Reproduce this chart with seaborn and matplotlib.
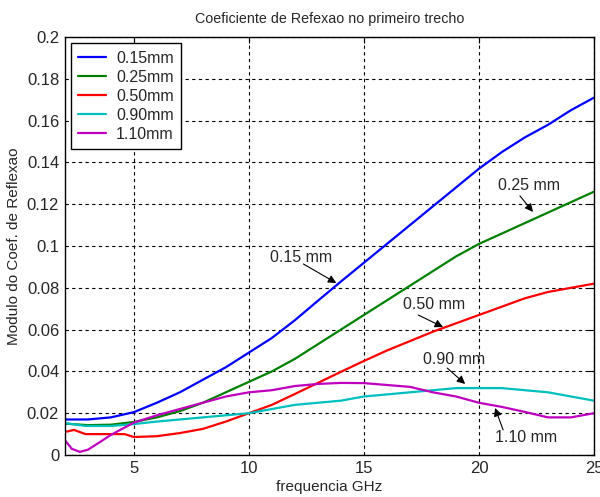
import matplotlib
matplotlib.use("Agg")
import matplotlib.pyplot as plt
import seaborn as sns
import pandas as pd
import numpy as np

# ---- data ----
freq_015 = [2, 3, 4, 5, 6, 7, 8, 9, 10, 11, 12, 13, 14, 15, 16, 17, 18, 19, 20, 21, 22, 23, 24, 25]
val_015 = [0.017, 0.017, 0.018, 0.0205, 0.025, 0.030, 0.036, 0.042, 0.049, 0.056, 0.0645, 0.0738, 0.083,
           0.092, 0.101, 0.110, 0.119, 0.128, 0.137, 0.145, 0.152, 0.158, 0.165, 0.171]

freq_025 = [2, 3, 4, 5, 6, 7, 8, 9, 10, 11, 12, 13, 14, 15, 16, 17, 18, 19, 20, 21, 22, 23, 24, 25]
val_025 = [0.015, 0.0143, 0.0145, 0.0158, 0.018, 0.021, 0.025, 0.030, 0.035, 0.040, 0.046, 0.053, 0.060,
           0.067, 0.074, 0.081, 0.088, 0.095, 0.101, 0.106, 0.111, 0.116, 0.121, 0.126]

freq_050 = [2, 2.4, 2.9, 3.5, 4, 4.6, 5, 6, 7, 8, 9, 10, 11, 12, 13, 14, 15, 16, 17, 18, 19, 20, 21, 22, 23, 24, 25]
val_050 = [0.011, 0.012, 0.010, 0.010, 0.010, 0.010, 0.0086, 0.009, 0.0105, 0.0125, 0.016, 0.020, 0.024, 0.0292,
           0.0345, 0.0398, 0.045, 0.050, 0.0545, 0.059, 0.063, 0.067, 0.071, 0.075, 0.078, 0.080, 0.082]

freq_090 = [2, 2.9, 4, 5, 6, 7, 8, 9, 10, 11, 12, 13, 14, 15, 16, 17, 18, 19, 20, 21, 22, 23, 24, 25]
val_090 = [0.0153, 0.0139, 0.0139, 0.0148, 0.016, 0.017, 0.018, 0.019, 0.020, 0.022, 0.024, 0.025, 0.026,
           0.028, 0.029, 0.030, 0.031, 0.032, 0.032, 0.032, 0.031, 0.030, 0.028, 0.026]

freq_110 = [2, 2.3, 2.65, 3.0, 3.5, 4, 5, 6, 7, 8, 9, 10, 11, 12, 13, 14, 15, 16, 17, 18, 19, 20, 21, 22, 23, 24, 25]
val_110 = [0.0072, 0.003, 0.0015, 0.0025, 0.006, 0.0096, 0.0155, 0.019, 0.022, 0.025, 0.028, 0.030, 0.031,
           0.033, 0.034, 0.0345, 0.0344, 0.0335, 0.0326, 0.030, 0.028, 0.025, 0.023, 0.0206, 0.018, 0.018, 0.020]

labels = ["0.15mm", "0.25mm", "0.50mm", "0.90mm", "1.10mm"]
colors = ["#0000ff", "#008000", "#ff0000", "#00bfbf", "#bf00bf"]

title = "Coeficiente de Refexao no primeiro trecho"
xlabel = "frequencia GHz"
ylabel = "Modulo do Coef. de Reflexao"

# annotations: text, text anchor (left, centre), arrow tail, arrow tip
ann_text = ["0.15 mm", "0.25 mm", "0.50 mm", "0.90 mm", "1.10 mm"]
ann_text_xy = [(10.94, 0.0943), (20.83, 0.129), (16.71, 0.0718), (17.58, 0.0459), (20.70, 0.0086)]
ann_tail_xy = [(12.37, 0.0914), (21.78, 0.124), (17.36, 0.0670), (18.62, 0.0416), (21.05, 0.0120)]
ann_tip_xy = [(13.80, 0.0823), (22.35, 0.1163), (18.44, 0.0612), (19.40, 0.0340), (20.70, 0.0225)]

# ---- build table ----
frames = []
for lab, fx, fy in zip(labels, [freq_015, freq_025, freq_050, freq_090, freq_110],
                       [val_015, val_025, val_050, val_090, val_110]):
    frames.append(pd.DataFrame({"freq": fx, "val": fy, "series": lab}))
df = pd.concat(frames, ignore_index=True)

sns.set_style("white")
plt.rcParams["font.family"] = ["Liberation Sans", "DejaVu Sans"]
plt.rcParams["font.size"] = 11

fig = plt.figure(figsize=(6.0, 4.97), dpi=100)
ax = fig.add_axes([0.108, 0.0845, 0.882, 0.841])

sns.lineplot(data=df, x="freq", y="val", hue="series", hue_order=labels,
             palette=colors, ax=ax, linewidth=1.6, estimator=None, sort=False)

ax.set_xlim(2, 25)
ax.set_ylim(0, 0.2)
ax.set_xticks([5, 10, 15, 20, 25])
ax.set_yticks(np.arange(0, 0.2001, 0.02))
ax.set_yticklabels(["0", "0.02", "0.04", "0.06", "0.08", "0.1", "0.12", "0.14", "0.16", "0.18", "0.2"])
ax.grid(True, color="black", linestyle=(0, (3, 3)), linewidth=0.8)
ax.tick_params(direction="in", length=4, color="black", labelsize=12, top=True, right=True, pad=4)
for s in ax.spines.values():
    s.set_color("black")
    s.set_linewidth(1.0)

ax.set_title(title, fontsize=10.3, pad=10)
ax.set_xlabel(xlabel, fontsize=11, labelpad=3)
ax.set_ylabel(ylabel, fontsize=11, labelpad=4)

leg = ax.legend(loc="upper left", frameon=True, fancybox=False, edgecolor="black",
                fontsize=11.5, borderaxespad=0.4, handlelength=1.7, labelspacing=0.25,
                borderpad=0.45, handletextpad=0.65)
leg.get_frame().set_linewidth(1.0)
leg.get_frame().set_facecolor("white")
leg.get_frame().set_alpha(1)

for t, txy, tail, tip in zip(ann_text, ann_text_xy, ann_tail_xy, ann_tip_xy):
    ax.text(txy[0], txy[1], t, fontsize=11.5, ha="left", va="center")
    ax.annotate("", xy=tip, xytext=tail, textcoords="data",
                arrowprops=dict(arrowstyle="-|>", color="black", lw=0.8,
                                shrinkA=0, shrinkB=0, mutation_scale=12))

fig.savefig("out.png", dpi=100, facecolor="white")
